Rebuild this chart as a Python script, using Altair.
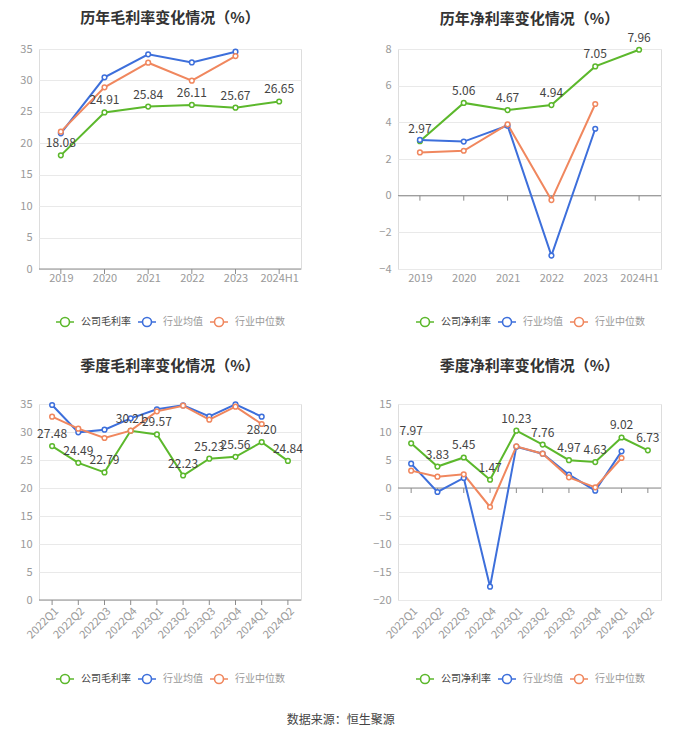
import altair as alt
import pandas as pd

years = ["2019", "2020", "2021", "2022", "2023", "2024H1"]
quarters = ["2022Q1", "2022Q2", "2022Q3", "2022Q4", "2023Q1", "2023Q2",
            "2023Q3", "2023Q4", "2024Q1", "2024Q2"]

gross_company = [18.08, 24.91, 25.84, 26.11, 25.67, 26.65]
gross_ind_mean = [21.58, 30.49, 34.15, 32.87, 34.57]
gross_ind_median = [21.85, 28.90, 32.82, 29.96, 33.88]

net_company = [2.97, 5.06, 4.67, 4.94, 7.05, 7.96]
net_ind_mean = [3.04, 2.95, 3.82, -3.27, 3.65]
net_ind_median = [2.36, 2.45, 3.89, -0.24, 5.00]

q_gross_company = [27.48, 24.49, 22.79, 30.21, 29.57, 22.23, 25.23, 25.56, 28.20, 24.84]
q_gross_ind_mean = [34.82, 29.94, 30.42, 32.44, 34.05, 34.76, 32.80, 34.94, 32.74]
q_gross_ind_median = [32.74, 30.60, 28.93, 30.24, 33.69, 34.70, 32.20, 34.52, 31.43]

q_net_company = [7.97, 3.83, 5.45, 1.47, 10.23, 7.76, 4.97, 4.63, 9.02, 6.73]
q_net_ind_mean = [4.35, -0.71, 1.79, -17.62, 7.38, 6.13, 2.38, -0.48, 6.55]
q_net_ind_median = [3.10, 2.02, 2.44, -3.39, 7.44, 6.13, 1.90, 0.12, 5.36]

GREEN = "#5cb82c"
BLUE = "#3d6fdb"
ORANGE = "#f0875e"
FONT = "Noto Sans CJK SC"

SYMBOL = ("M-1,0L-0.5,0M0.5,0L1,0"
          "M-0.5,0A0.5,0.5,0,1,0,0.5,0A0.5,0.5,0,1,0,-0.5,0Z")


def make_df(cats, series):
    rows = []
    for name, vals in series:
        for c, v in zip(cats, vals):
            rows.append({"cat": c, "series": name, "value": v})
    return pd.DataFrame(rows)


def panel(title, cats, series, domain, ticks, rotate, width, height,
          title_offset, legend_x, legend_y):
    names = [s[0] for s in series]
    df = make_df(cats, series)
    company = names[0]
    xenc = alt.X("cat:N", sort=cats,
                 scale=alt.Scale(type="point", padding=0.5),
                 axis=alt.Axis(title=None, domain=False, ticks=False, grid=False,
                               labelColor="#999", labelFontSize=11,
                               labelPadding=5 if rotate else 3,
                               labelOverlap=False,
                               labelAngle=315 if rotate else 0,
                               labelFont=FONT))
    yenc = alt.Y("value:Q",
                 scale=alt.Scale(domain=domain, nice=False, zero=False),
                 axis=alt.Axis(title=None, domain=False, ticks=False,
                               values=ticks, gridColor="#e9e9e9",
                               labelColor="#999", labelFontSize=11,
                               labelOverlap=False,
                               labelPadding=7, labelFont=FONT))
    color = alt.Color("series:N",
                      scale=alt.Scale(domain=names, range=[GREEN, BLUE, ORANGE]),
                      legend=alt.Legend(
                          orient="none", legendX=legend_x, legendY=legend_y,
                          direction="horizontal", title=None,
                          symbolType=SYMBOL, symbolSize=324,
                          symbolStrokeWidth=1.6, symbolFillColor="white",
                          labelFontSize=10, labelFont=FONT,
                          labelColor={"expr": "indexof(datum.label, '公司') === 0 ? '#444' : '#999'"},
                          columnPadding=3, labelOffset=6, gridAlign="none"),
                      sort=names)
    base = alt.Chart(df)
    zero = alt.Chart(pd.DataFrame({"value": [0]})).mark_rule(
        color="#8c8c8c", strokeWidth=1).encode(y=yenc)
    tickdf = pd.DataFrame({"cat": cats, "value": [0] * len(cats)})
    tick = alt.Chart(tickdf).mark_rule(color="#8c8c8c", y2Offset=5).encode(
        x=xenc, y=yenc, y2=alt.Y2("value"))
    lines = base.mark_line(strokeWidth=2).encode(x=xenc, y=yenc, color=color)
    points = base.mark_point(fill="white", filled=False, size=22,
                             strokeWidth=1.5, opacity=1).encode(
        x=xenc, y=yenc, color=color)
    labels = base.transform_filter(alt.datum.series == company).mark_text(
        baseline="bottom", dy=-5, fontSize=12, color="#444", font=FONT).encode(
        x=xenc, y=yenc,
        text=alt.Text("value:Q", format=".2f"))
    return alt.layer(zero, tick, lines, points, labels).properties(
        width=width, height=height,
        title=alt.TitleParams(title, fontSize=15, fontWeight="bold",
                              color="#333", anchor="middle", font=FONT,
                              offset=title_offset))


p1 = panel("历年毛利率变化情况（%）", years,
           [("公司毛利率", gross_company), ("行业均值", gross_ind_mean),
            ("行业中位数", gross_ind_median)],
           [0, 35], list(range(0, 36, 5)), False, 262, 220, 17, 16, 263)
p2 = panel("历年净利率变化情况（%）", years,
           [("公司净利率", net_company), ("行业均值", net_ind_mean),
            ("行业中位数", net_ind_median)],
           [-4, 8], list(range(-4, 9, 2)), False, 263, 220, 5, 17, 263)
p3 = panel("季度毛利率变化情况（%）", quarters,
           [("公司毛利率", q_gross_company), ("行业均值", q_gross_ind_mean),
            ("行业中位数", q_gross_ind_median)],
           [0, 35], list(range(0, 36, 5)), True, 262, 196, 24, 16, 265)
p4 = panel("季度净利率变化情况（%）", quarters,
           [("公司净利率", q_net_company), ("行业均值", q_net_ind_mean),
            ("行业中位数", q_net_ind_median)],
           [-20, 15], list(range(-20, 16, 5)), True, 263, 196, 24, 17, 265)

chart = alt.concat(p1, p2, p3, p4, columns=2,
                   spacing={"row": 135, "column": 97},
                   bounds="flush").resolve_scale(
    color="independent").properties(
    padding={"left": 11, "top": 2, "right": 10, "bottom": 10},
    title=alt.TitleParams("数据来源：恒生聚源", orient="bottom", anchor="middle",
                          fontSize=12, fontWeight="normal", color="#444",
                          font=FONT, offset=27)
).configure_view(stroke=None).configure(font=FONT)

chart.save("out.html", embed_options={"renderer": "svg", "actions": False})
